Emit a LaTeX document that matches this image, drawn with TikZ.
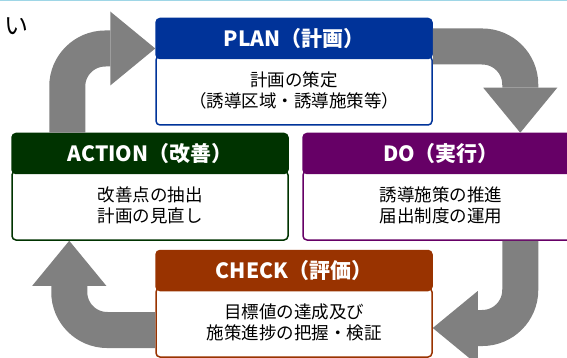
\documentclass[tikz,border=0pt]{standalone}
\usepackage{fontspec}
\setmainfont{Noto Sans CJK JP}
\usepackage{xcolor}
\definecolor{plan-blue}{HTML}{003399}
\definecolor{do-purple}{HTML}{660066}
\definecolor{check-brown}{HTML}{993300}
\definecolor{act-green}{HTML}{003300}
\definecolor{arr-grey}{HTML}{808080}
\definecolor{top-cyan}{HTML}{9ED6E6}
\usepackage{tikz}
\usetikzlibrary{positioning}
\usetikzlibrary{arrows.meta}
\tikzset{head/.style = {draw=#1, fill=#1, rounded corners=4pt, line width=1.5pt, text=white, font=\fontsize{21}{23}\selectfont\bfseries, minimum width=276pt, minimum height=40pt, inner sep=0pt}}
\tikzset{body/.style = {draw=#1, fill=white, rounded corners=4pt, line width=1.5pt, align=center, text centered, font=\fontsize{17.5}{21}\selectfont, minimum width=276pt, minimum height=69pt, inner sep=0pt}}
\tikzset{bigarr/.style = {draw=arr-grey, line width=36pt, rounded corners=38pt, -{Triangle[width=74pt, length=45pt, line width=0pt]}}}

\begin{document}
\begin{tikzpicture}[x=1pt, y=-1pt,
  node distance = 4pt
]
\useasboundingbox (0,0) rectangle (567,358);

\draw[top-cyan, line width=1.5pt] (0,0.75) -- (567,0.75);
\node[font=\fontsize{24}{24}\selectfont] (ttl) at (17,26) {い};

% bodies first, heads on top of them
\node[body=plan-blue] (planb) at (294,90.5) {計画の策定\\（誘導区域・誘導施策等）};
\node[head=plan-blue, above=-4pt of planb] (planh) {PLAN（計画）};
\node[body=act-green] (actb) at (150,205.5) {改善点の抽出\\計画の見直し};
\node[head=act-green, above=-4pt of actb] (acth) {ACTION（改善）};
\node[body=do-purple] (dob) at (441,205.5) {誘導施策の推進\\届出制度の運用};
\node[head=do-purple, above=-4pt of dob] (doh) {DO（実行）};
\node[body=check-brown] (chkb) at (294,322.5) {目標値の達成及び\\施策進捗の把握・検証};
\node[head=check-brown, above=-4pt of chkb] (chkh) {CHECK（評価）};

\draw[bigarr] ([xshift=56pt]acth.north west) |- ([yshift=-10pt]planh.west);
\draw[bigarr] ([yshift=-8pt]planh.east) -| ([xshift=218pt]doh.north west);
\draw[bigarr] ([xshift=218pt]dob.south west) |- ([yshift=-5.5pt]chkb.east);
\draw[bigarr] ([yshift=-7.5pt]chkb.west) -| ([xshift=58pt]actb.south west);

\end{tikzpicture}
\end{document}
